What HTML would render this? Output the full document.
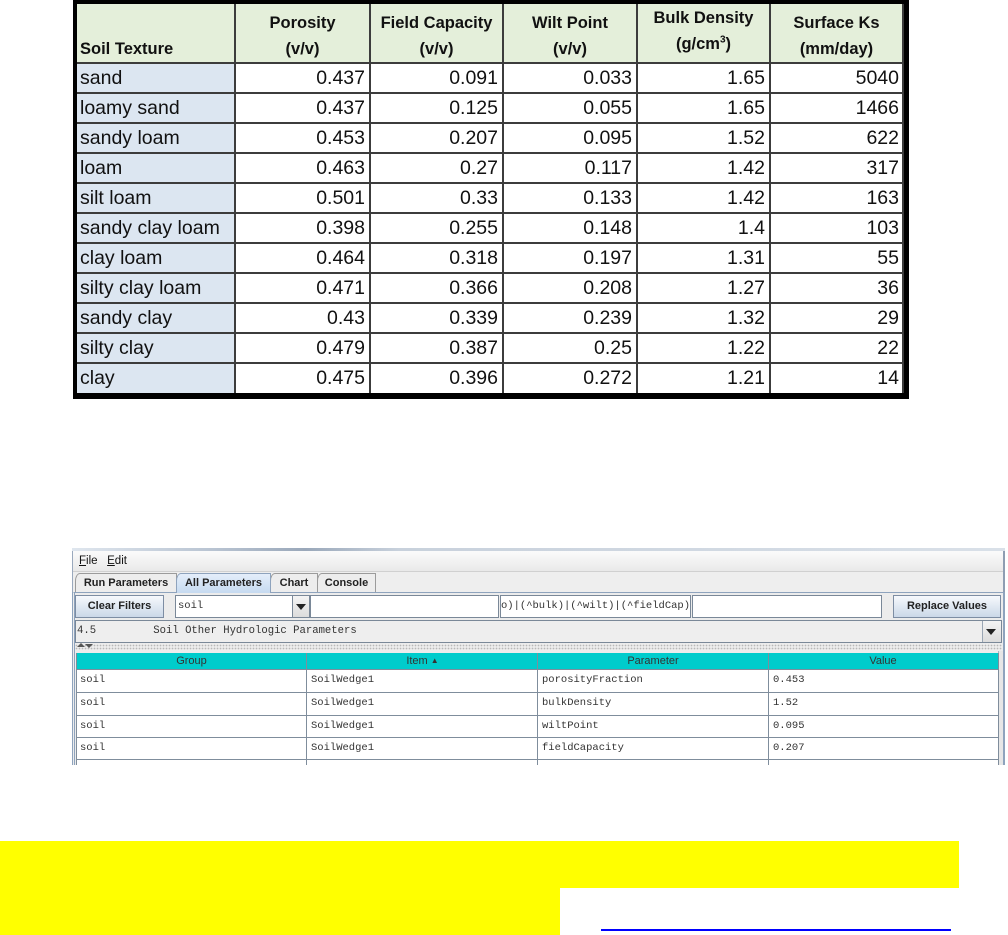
<!DOCTYPE html>
<html>
<head>
<meta charset="utf-8">
<style>
  html,body{margin:0;padding:0;}
  body{width:1008px;height:935px;position:relative;background:#fff;overflow:hidden;font-family:"Liberation Sans",sans-serif;}
  .a{position:absolute;box-sizing:border-box;}
  .cell{position:absolute;height:30px;line-height:30px;font-size:19.5px;color:#111;white-space:nowrap;}
  .hd{position:absolute;font-size:16.5px;font-weight:bold;line-height:26px;text-align:center;color:#111;white-space:nowrap;}
  .vl{position:absolute;width:2px;background:#3c3c3c;top:4px;height:390px;}
  .hl{position:absolute;height:2px;background:#3c3c3c;left:77px;width:827px;}
  .mono{font-family:"Liberation Mono",monospace;font-size:10.5px;color:#333;white-space:pre;}
  .btn{position:absolute;box-sizing:border-box;border:1px solid #7d8da3;background:linear-gradient(#f6f9fd,#cbd8e8);font-size:11px;font-weight:bold;color:#222;text-align:center;}
  .fld{position:absolute;box-sizing:border-box;border:1px solid #7a8898;background:#fff;}
  .tab{position:absolute;box-sizing:border-box;top:573px;height:20px;border:1px solid #9b9b9b;border-bottom:none;font-size:11px;font-weight:bold;color:#222;text-align:center;line-height:18px;background:#ededed;border-top-left-radius:5px 8px;}
  .th{position:absolute;top:653px;height:16px;line-height:16px;font-size:11px;color:#333;text-align:center;}
  .tl{position:absolute;width:1px;background:#7f8d9c;top:653px;height:112px;}
  .rl{position:absolute;height:1px;background:#7f8d9c;left:76px;width:922px;}
  .td{position:absolute;height:22px;line-height:22px;}
</style>
</head>
<body>

<!-- ================= EXCEL TABLE ================= -->
<!-- header background -->
<div class="a" style="left:77px;top:4px;width:827px;height:59px;background:#e4efda;"></div>
<!-- first column background -->
<div class="a" style="left:77px;top:63px;width:158px;height:330px;background:#dce6f1;"></div>

<!-- grid lines -->
<div class="vl" style="left:234px;"></div>
<div class="vl" style="left:369px;"></div>
<div class="vl" style="left:502px;"></div>
<div class="vl" style="left:636px;"></div>
<div class="vl" style="left:769px;"></div>
<div class="vl" style="left:902px;"></div>

<div class="hl" style="top:62px;"></div>
<div class="hl" style="top:92px;"></div>
<div class="hl" style="top:122px;"></div>
<div class="hl" style="top:152px;"></div>
<div class="hl" style="top:182px;"></div>
<div class="hl" style="top:212px;"></div>
<div class="hl" style="top:242px;"></div>
<div class="hl" style="top:272px;"></div>
<div class="hl" style="top:302px;"></div>
<div class="hl" style="top:332px;"></div>
<div class="hl" style="top:362px;"></div>

<!-- outer border -->
<div class="a" style="left:73px;top:0;width:836px;height:399px;border-left:4px solid #000;border-top:4px solid #000;border-right:5px solid #000;border-bottom:6px solid #000;"></div>

<!-- header text -->
<div class="hd" style="left:80px;top:36px;text-align:left;">Soil Texture</div>
<div class="hd" style="left:236px;top:10px;width:133px;">Porosity<br>(v/v)</div>
<div class="hd" style="left:371px;top:10px;width:131px;">Field Capacity<br>(v/v)</div>
<div class="hd" style="left:504px;top:10px;width:132px;">Wilt Point<br>(v/v)</div>
<div class="hd" style="left:638px;top:5px;width:131px;">Bulk Density<br>(g/cm<sup style="font-size:10px;line-height:0;">3</sup>)</div>
<div class="hd" style="left:771px;top:10px;width:131px;">Surface Ks<br>(mm/day)</div>

<!-- rows -->
<div class="cell" style="left:80px;top:63px;">sand</div>
<div class="cell" style="left:80px;top:93px;">loamy sand</div>
<div class="cell" style="left:80px;top:123px;">sandy loam</div>
<div class="cell" style="left:80px;top:153px;">loam</div>
<div class="cell" style="left:80px;top:183px;">silt loam</div>
<div class="cell" style="left:80px;top:213px;">sandy clay loam</div>
<div class="cell" style="left:80px;top:243px;">clay loam</div>
<div class="cell" style="left:80px;top:273px;">silty clay loam</div>
<div class="cell" style="left:80px;top:303px;">sandy clay</div>
<div class="cell" style="left:80px;top:333px;">silty clay</div>
<div class="cell" style="left:80px;top:363px;">clay</div>

<!-- Porosity col right edge 365 -->
<div class="cell" style="right:643px;top:63px;">0.437</div>
<div class="cell" style="right:643px;top:93px;">0.437</div>
<div class="cell" style="right:643px;top:123px;">0.453</div>
<div class="cell" style="right:643px;top:153px;">0.463</div>
<div class="cell" style="right:643px;top:183px;">0.501</div>
<div class="cell" style="right:643px;top:213px;">0.398</div>
<div class="cell" style="right:643px;top:243px;">0.464</div>
<div class="cell" style="right:643px;top:273px;">0.471</div>
<div class="cell" style="right:643px;top:303px;">0.43</div>
<div class="cell" style="right:643px;top:333px;">0.479</div>
<div class="cell" style="right:643px;top:363px;">0.475</div>

<!-- Field capacity right edge 498 -->
<div class="cell" style="right:510px;top:63px;">0.091</div>
<div class="cell" style="right:510px;top:93px;">0.125</div>
<div class="cell" style="right:510px;top:123px;">0.207</div>
<div class="cell" style="right:510px;top:153px;">0.27</div>
<div class="cell" style="right:510px;top:183px;">0.33</div>
<div class="cell" style="right:510px;top:213px;">0.255</div>
<div class="cell" style="right:510px;top:243px;">0.318</div>
<div class="cell" style="right:510px;top:273px;">0.366</div>
<div class="cell" style="right:510px;top:303px;">0.339</div>
<div class="cell" style="right:510px;top:333px;">0.387</div>
<div class="cell" style="right:510px;top:363px;">0.396</div>

<!-- Wilt point right edge 632 -->
<div class="cell" style="right:376px;top:63px;">0.033</div>
<div class="cell" style="right:376px;top:93px;">0.055</div>
<div class="cell" style="right:376px;top:123px;">0.095</div>
<div class="cell" style="right:376px;top:153px;">0.117</div>
<div class="cell" style="right:376px;top:183px;">0.133</div>
<div class="cell" style="right:376px;top:213px;">0.148</div>
<div class="cell" style="right:376px;top:243px;">0.197</div>
<div class="cell" style="right:376px;top:273px;">0.208</div>
<div class="cell" style="right:376px;top:303px;">0.239</div>
<div class="cell" style="right:376px;top:333px;">0.25</div>
<div class="cell" style="right:376px;top:363px;">0.272</div>

<!-- Bulk density right edge 765 -->
<div class="cell" style="right:243px;top:63px;">1.65</div>
<div class="cell" style="right:243px;top:93px;">1.65</div>
<div class="cell" style="right:243px;top:123px;">1.52</div>
<div class="cell" style="right:243px;top:153px;">1.42</div>
<div class="cell" style="right:243px;top:183px;">1.42</div>
<div class="cell" style="right:243px;top:213px;">1.4</div>
<div class="cell" style="right:243px;top:243px;">1.31</div>
<div class="cell" style="right:243px;top:273px;">1.27</div>
<div class="cell" style="right:243px;top:303px;">1.32</div>
<div class="cell" style="right:243px;top:333px;">1.22</div>
<div class="cell" style="right:243px;top:363px;">1.21</div>

<!-- Surface Ks right edge 899 -->
<div class="cell" style="right:109px;top:63px;">5040</div>
<div class="cell" style="right:109px;top:93px;">1466</div>
<div class="cell" style="right:109px;top:123px;">622</div>
<div class="cell" style="right:109px;top:153px;">317</div>
<div class="cell" style="right:109px;top:183px;">163</div>
<div class="cell" style="right:109px;top:213px;">103</div>
<div class="cell" style="right:109px;top:243px;">55</div>
<div class="cell" style="right:109px;top:273px;">36</div>
<div class="cell" style="right:109px;top:303px;">29</div>
<div class="cell" style="right:109px;top:333px;">22</div>
<div class="cell" style="right:109px;top:363px;">14</div>

<!-- ================= JAVA UI ================= -->
<!-- window top frame remnant -->
<div class="a" style="left:72px;top:548px;width:933px;height:3px;background:linear-gradient(90deg,#dfe6ee 0%,#b9c4d2 15%,#9aa8ba 25%,#c8d1dc 35%,#d9e0e8 100%);"></div>
<!-- window body -->
<div class="a" style="left:72px;top:551px;width:933px;height:214px;background:#eeeeee;border-left:1px solid #9aa9bd;border-right:2px solid #8e9db2;"></div>
<!-- menu bar -->
<div class="a" style="left:73px;top:551px;width:930px;height:21px;background:linear-gradient(#fbfbfb,#e9e9e9);border-bottom:1px solid #d0d0d0;"></div>
<div class="a" style="left:79px;top:554px;font-size:11.5px;color:#111;line-height:15px;"><span style="text-decoration:underline;">F</span>ile&nbsp;&nbsp;&nbsp;<span style="text-decoration:underline;">E</span>dit</div>

<!-- tabs -->
<div class="tab" style="left:75px;width:102px;">Run Parameters</div>
<div class="tab" style="left:176px;width:95px;background:linear-gradient(#e4eefa,#c6daf0);border-color:#8ea3bd;z-index:2;">All Parameters</div>
<div class="tab" style="left:270px;width:48px;">Chart</div>
<div class="tab" style="left:317px;width:59px;">Console</div>

<!-- content panel -->
<div class="a" style="left:72px;top:592px;width:933px;height:173px;border-top:1px solid #8ea3bd;border-left:3px double #8ea3bd;border-right:2px solid #8ea3bd;background:#ececec;"></div>

<!-- filter row -->
<div class="btn" style="left:75px;top:595px;width:89px;height:23px;line-height:21px;">Clear Filters</div>
<div class="fld" style="left:175px;top:595px;width:118px;height:23px;"></div>
<div class="a mono" style="left:178px;top:595px;line-height:23px;">soil</div>
<div class="a" style="left:292px;top:595px;width:18px;height:23px;border:1px solid #7a8898;background:linear-gradient(#f4f4f4,#dcdcdc);"></div>
<div class="a" style="left:296px;top:604px;width:0;height:0;border-left:5px solid transparent;border-right:5px solid transparent;border-top:6px solid #222;"></div>
<div class="fld" style="left:310px;top:595px;width:189px;height:23px;"></div>
<div class="fld" style="left:500px;top:595px;width:191px;height:23px;"></div>
<div class="a mono" style="left:501px;top:595px;line-height:23px;">o)|(^bulk)|(^wilt)|(^fieldCap)</div>
<div class="fld" style="left:692px;top:595px;width:190px;height:23px;"></div>
<div class="btn" style="left:893px;top:595px;width:108px;height:23px;line-height:21px;">Replace Values</div>

<!-- second row dropdown -->
<div class="a" style="left:75px;top:620px;width:927px;height:23px;border:1px solid #7a8898;background:#eeeeee;"></div>
<div class="a mono" style="left:77px;top:620px;line-height:23px;font-size:10.6px;">4.5         Soil Other Hydrologic Parameters</div>
<div class="a" style="left:982px;top:621px;width:19px;height:21px;border-left:1px solid #9aa6b4;background:linear-gradient(#f4f4f4,#dcdcdc);"></div>
<div class="a" style="left:986px;top:629px;width:0;height:0;border-left:5px solid transparent;border-right:5px solid transparent;border-top:6px solid #222;"></div>

<!-- splitter -->
<div class="a" style="left:75px;top:644px;width:927px;height:6px;background-image:radial-gradient(#b8b8b8 0.7px,transparent 0.9px);background-size:3px 3px;"></div>
<div class="a" style="left:77px;top:643px;width:0;height:0;border-left:4px solid transparent;border-right:4px solid transparent;border-bottom:4px solid #555;"></div>
<div class="a" style="left:85px;top:644px;width:0;height:0;border-left:4px solid transparent;border-right:4px solid transparent;border-top:4px solid #555;"></div>

<!-- JTable -->
<div class="a" style="left:76px;top:653px;width:922px;height:112px;background:#fff;"></div>
<div class="a" style="left:76px;top:653px;width:922px;height:16px;background:#00cccc;"></div>
<div class="a" style="left:998px;top:651px;width:5px;height:114px;background:#e6e6e6;border-left:1px solid #a8b4c2;"></div>
<div class="th" style="left:76px;width:231px;">Group</div>
<div class="th" style="left:307px;width:231px;">Item <span style="font-size:8px;position:relative;top:-1px;">&#9650;</span></div>
<div class="th" style="left:538px;width:230px;">Parameter</div>
<div class="th" style="left:768px;width:230px;">Value</div>

<div class="tl" style="left:76px;"></div>
<div class="tl" style="left:306px;"></div>
<div class="tl" style="left:537px;"></div>
<div class="tl" style="left:768px;"></div>
<div class="tl" style="left:998px;"></div>

<div class="rl" style="top:669px;"></div>
<div class="rl" style="top:692px;"></div>
<div class="rl" style="top:715px;"></div>
<div class="rl" style="top:737px;"></div>
<div class="rl" style="top:759px;"></div>

<div class="td mono" style="left:80px;top:669px;">soil</div>
<div class="td mono" style="left:311px;top:669px;">SoilWedge1</div>
<div class="td mono" style="left:542px;top:669px;">porosityFraction</div>
<div class="td mono" style="left:773px;top:669px;">0.453</div>

<div class="td mono" style="left:80px;top:692px;">soil</div>
<div class="td mono" style="left:311px;top:692px;">SoilWedge1</div>
<div class="td mono" style="left:542px;top:692px;">bulkDensity</div>
<div class="td mono" style="left:773px;top:692px;">1.52</div>

<div class="td mono" style="left:80px;top:715px;">soil</div>
<div class="td mono" style="left:311px;top:715px;">SoilWedge1</div>
<div class="td mono" style="left:542px;top:715px;">wiltPoint</div>
<div class="td mono" style="left:773px;top:715px;">0.095</div>

<div class="td mono" style="left:80px;top:737px;">soil</div>
<div class="td mono" style="left:311px;top:737px;">SoilWedge1</div>
<div class="td mono" style="left:542px;top:737px;">fieldCapacity</div>
<div class="td mono" style="left:773px;top:737px;">0.207</div>

<!-- ================= BOTTOM HIGHLIGHTS ================= -->
<div class="a" style="left:0;top:841px;width:959px;height:47px;background:#ffff00;"></div>
<div class="a" style="left:0;top:888px;width:560px;height:47px;background:#ffff00;"></div>
<div class="a" style="left:601px;top:929px;width:350px;height:2px;background:#0000ff;"></div>

</body>
</html>
